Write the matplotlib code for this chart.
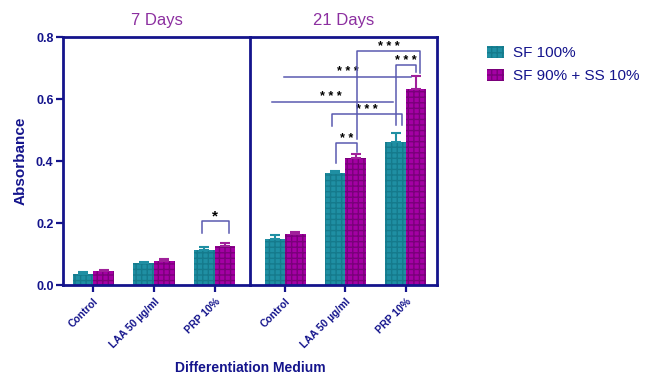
import numpy as np
import matplotlib
matplotlib.use('Agg')
from matplotlib import pyplot as plt
from matplotlib.patches import Patch

plt.rcParams['font.family'] = ['Liberation Sans', 'DejaVu Sans']
plt.rcParams['hatch.linewidth'] = 1.0

NAVY = '#14148c'
TITLE = '#8c2fa0'
TEAL = '#1f8fa3'
TEAL_D = '#157a8c'
MAG = '#a400a4'
MAG_D = '#7a007a'
LINE = '#5a5ab0'

categories = ['Control', 'LAA 50 µg/ml', 'PRP 10%']
panels = ['7 Days', '21 Days']
series = ['SF 100%', 'SF 90% + SS 10%']

sf_7 = [0.036, 0.071, 0.113]
sf_7_err = [0.005, 0.002, 0.010]
ss_7 = [0.045, 0.077, 0.127]
ss_7_err = [0.003, 0.006, 0.008]

sf_21 = [0.148, 0.360, 0.461]
sf_21_err = [0.014, 0.007, 0.030]
ss_21 = [0.165, 0.411, 0.633]
ss_21_err = [0.007, 0.012, 0.042]

# significance marks: (x1, x2, top, left arm end, right arm end, label)
sig_7 = [(1.79, 2.23, 0.206, 0.167, 0.167, '*')]
sig_21 = [(0.84, 1.19, 0.459, 0.394, 0.429, '* *'),
          (0.77, 1.93, 0.551, 0.514, 0.516, '* * *'),
          (1.83, 2.16, 0.710, 0.516, 0.688, '* * *'),
          (1.19, 2.23, 0.756, 0.472, 0.685, '* * *')]
# plain horizontal lines: (x1, x2, y, label x, label)
sig_21_lines = [(-0.01, 2.09, 0.671, 1.04, '* * *'),
                (-0.21, 1.78, 0.589, 0.76, '* * *')]

fig = plt.figure(figsize=(6.54, 3.78), dpi=100)
W, H = 654, 378
bottom = 1 - 285 / H
height = (285 - 37) / H
ax1 = fig.add_axes([63.3 / W, bottom, (250 - 63.3) / W, height])
ax2 = fig.add_axes([250 / W, bottom, (436.7 - 250) / W, height])
ax2.patch.set_alpha(0)

x = np.arange(len(categories))
bw = 0.34


def draw_panel(ax, sf, sf_err, ss, ss_err, title):
    ax.bar(x - bw / 2, sf, bw, color=TEAL, edgecolor=TEAL_D, hatch='+++', linewidth=0, zorder=2)
    ax.bar(x + bw / 2, ss, bw, color=MAG, edgecolor=MAG_D, hatch='+++', linewidth=0, zorder=2)
    ax.errorbar(x - bw / 2, sf, yerr=[np.zeros(3), sf_err], fmt='none', ecolor=TEAL,
                elinewidth=1.5, capsize=3.6, capthick=1.5, zorder=3)
    ax.errorbar(x + bw / 2, ss, yerr=[np.zeros(3), ss_err], fmt='none', ecolor='#a0209a',
                elinewidth=1.5, capsize=3.6, capthick=1.5, zorder=3)
    ax.set_ylim(0, 0.8)
    ax.set_xticks(x)
    ax.set_xticklabels(categories, rotation=45, ha='right', rotation_mode='anchor',
                       fontsize=7.5, fontweight='bold', color=NAVY)
    ax.tick_params(axis='x', length=5, width=1.6, color=NAVY, pad=3)
    for s in ax.spines.values():
        s.set_color(NAVY)
        s.set_linewidth(2.0)
    ax.set_title(title, color=TITLE, fontsize=12, pad=9)


draw_panel(ax1, sf_7, sf_7_err, ss_7, ss_7_err, panels[0])
draw_panel(ax2, sf_21, sf_21_err, ss_21, ss_21_err, panels[1])
ax1.set_xlim(-0.496, 2.58)
ax2.set_xlim(-0.58, 2.51)

ax1.set_yticks([0, 0.2, 0.4, 0.6, 0.8])
ax1.set_yticklabels(['0.0', '0.2', '0.4', '0.6', '0.8'], fontsize=9, fontweight='bold', color=NAVY)
ax1.tick_params(axis='y', length=5, width=1.6, color=NAVY, pad=2)
ax1.set_ylabel('Absorbance', fontsize=11, fontweight='bold', color=NAVY, labelpad=6)
ax2.set_yticks([])
ax2.spines['left'].set_visible(False)


def brackets(ax, marks, fs):
    for x1, x2, top, a1, a2, lab in marks:
        ax.plot([x1, x1, x2, x2], [a1, top, top, a2], color=LINE, lw=1.1, zorder=4)
        ax.text((x1 + x2) / 2, top + 0.003, lab, ha='center', va='baseline', fontsize=fs,
                fontweight='bold', color='black')


brackets(ax1, sig_7, 11)
brackets(ax2, sig_21, 9)
for x1, x2, y, tx, lab in sig_21_lines:
    ax2.plot([x1, x2], [y, y], color=LINE, lw=1.1, zorder=4)
    ax2.text(tx, y + 0.007, lab, ha='center', va='baseline', fontsize=9, fontweight='bold', color='black')

fig.text(250 / W, 1 - 368 / H, 'Differentiation Medium', ha='center', va='center',
         fontsize=10, fontweight='bold', color=NAVY)

handles = [Patch(facecolor=TEAL, edgecolor=TEAL_D, hatch='+++', linewidth=0),
           Patch(facecolor=MAG, edgecolor=MAG_D, hatch='+++', linewidth=0)]
leg = fig.legend(handles, series, loc='upper left', bbox_to_anchor=(473 / W, 1 - 32 / H),
                 frameon=False, fontsize=11, handlelength=1.1, handleheight=0.85,
                 handletextpad=0.65, labelspacing=0.55)
for t in leg.get_texts():
    t.set_color(NAVY)

fig.savefig('out.png', dpi=100)
